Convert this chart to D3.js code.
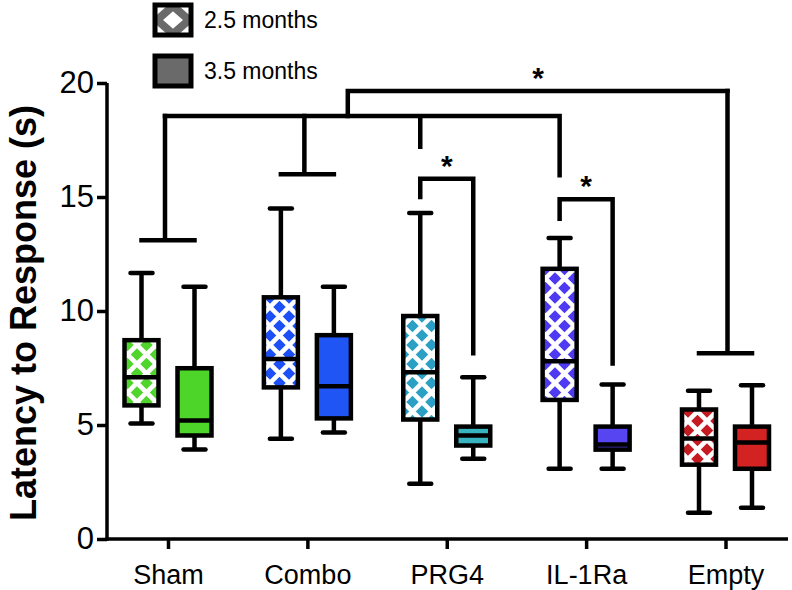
<!DOCTYPE html>
<html>
<head>
<meta charset="utf-8">
<script src="https://cdn.jsdelivr.net/npm/d3@7"></script>
<style>
  html, body { margin: 0; padding: 0; background: #fff; }
  svg { display: block; font-family: "Liberation Sans", Arial, Helvetica, sans-serif; }
</style>
</head>
<body>
<svg id="chart" width="792" height="590"></svg>
<script>
// ---------- data ----------
const groups = ["Sham", "Combo", "PRG4", "IL-1Ra", "Empty"];
const seriesNames = ["2.5 months", "3.5 months"];
const yTicks = [0, 5, 10, 15, 20];

// 2.5 months (patterned boxes)
const min25 = [5.07, 4.40, 2.42, 3.08, 1.15];
const q1_25 = [5.86, 6.65, 5.24, 6.10, 3.26];
const med25 = [7.09, 7.90, 7.31, 7.80, 4.41];
const q3_25 = [8.72, 10.60, 9.78, 11.85, 5.68];
const max25 = [11.67, 14.50, 14.30, 13.20, 6.50];

// 3.5 months (solid boxes)
const min35 = [3.92, 4.67, 3.52, 3.08, 1.37];
const q1_35 = [4.54, 5.29, 4.10, 3.92, 3.08];
const med35 = [5.20, 6.70, 4.54, 4.14, 4.23];
const q3_35 = [7.49, 8.94, 4.93, 4.93, 4.93];
const max35 = [11.06, 11.06, 7.09, 6.78, 6.74];

const patternColors = ["#4fd52b", "#1d4ff7", "#2b9fc4", "#4d3af2", "#c41a22"];
const solidColors   = ["#4ed52a", "#1f55f5", "#38b4c0", "#5645f0", "#d22222"];

// significance bracket heights (data units)
const pairBracketY = [13.1, 16.0, null, null, 8.15];
const groupLinkY = 18.55;   // links Sham..IL-1Ra
const topLinkY = 19.65;     // links that to Empty
const starBrackets = [
  { group: "PRG4",   y: 15.8, leftEnd: 15.0, rightEnd: 8.15 },
  { group: "IL-1Ra", y: 14.9, leftEnd: 14.05, rightEnd: 7.7 }
];
const prgStemEnd = 17.2;
const ilStemEnd = 15.95;

// ---------- layout ----------
const svg = d3.select("#chart");
const x = d3.scalePoint().domain(groups).range([168, 725.5]);
const y = d3.scaleLinear().domain([0, 20]).range([539, 83]);
const off = 26.5, boxW = 34, capW = 22, sw = 4.5;

// patterns
const defs = svg.append("defs");
function makePattern(id, color) {
  const T = 19;
  const p = defs.append("pattern").attr("id", id)
    .attr("patternUnits", "userSpaceOnUse").attr("width", T).attr("height", T)
    .attr("x", 4).attr("y", 3);
  p.append("rect").attr("width", T).attr("height", T).attr("fill", color);
  p.append("path").attr("d", `M0,0L${T},${T}M${T},0L0,${T}M${-T/2},${T/2}L${T/2},${1.5*T}M${T/2},${-T/2}L${1.5*T},${T/2}M${1.5*T},${T/2}L${T/2},${1.5*T}M${T/2},${-T/2}L${-T/2},${T/2}`)
    .attr("stroke", "#fff").attr("stroke-width", 4.6);
  return `url(#${id})`;
}
const patFills = patternColors.map((c, i) => makePattern("pat" + i, c));

// legend pattern: gray lattice with white diamonds
const lp = defs.append("pattern").attr("id", "patLegend")
  .attr("patternUnits", "userSpaceOnUse").attr("width", 32).attr("height", 28)
  .attr("x", 157).attr("y", 6);
lp.append("rect").attr("width", 32).attr("height", 28).attr("fill", "#fff");
lp.append("path").attr("d", "M16,0L32,14L16,28L0,14Z").attr("fill", "none")
  .attr("stroke", "#6a6a6a").attr("stroke-width", 8);

// axes
const yAxis = d3.axisLeft(y).tickValues(yTicks).tickSize(10).tickPadding(3);
const gy = svg.append("g").attr("transform", "translate(107,0)").call(yAxis);
gy.select(".domain").attr("stroke", "#000").attr("stroke-width", 3.5).attr("d", `M0,${y(20)}V${y(0)+1.75}`);
gy.selectAll(".tick line").attr("stroke", "#000").attr("stroke-width", 3.5);
gy.selectAll(".tick text").attr("font-size", 31).attr("fill", "#000");

const xAxis = d3.axisBottom(x).tickSize(10).tickPadding(16);
const gx = svg.append("g").attr("transform", `translate(0,${y(0)})`).call(xAxis);
gx.select(".domain").attr("stroke", "#000").attr("stroke-width", 3.5).attr("d", `M105.25,0H788`);
gx.selectAll(".tick line").attr("stroke", "#000").attr("stroke-width", 3.5);
gx.selectAll(".tick text").attr("font-size", 27).attr("fill", "#000");

// y label
svg.append("text")
  .attr("transform", `translate(36,${(y(0) + y(20)) / 2 + 2}) rotate(-90)`)
  .attr("text-anchor", "middle").attr("font-size", 36).attr("font-weight", "bold")
  .text("Latency to Response (s)");

// boxes
function drawBox(cx, lo, q1, med, q3, hi, fill) {
  const g = svg.append("g");
  g.append("line").attr("x1", cx).attr("x2", cx).attr("y1", y(hi)).attr("y2", y(q3))
    .attr("stroke", "#000").attr("stroke-width", sw);
  g.append("line").attr("x1", cx).attr("x2", cx).attr("y1", y(q1)).attr("y2", y(lo))
    .attr("stroke", "#000").attr("stroke-width", sw);
  g.append("line").attr("x1", cx - capW / 2).attr("x2", cx + capW / 2).attr("y1", y(hi)).attr("y2", y(hi))
    .attr("stroke", "#000").attr("stroke-width", sw).attr("stroke-linecap", "round");
  g.append("line").attr("x1", cx - capW / 2).attr("x2", cx + capW / 2).attr("y1", y(lo)).attr("y2", y(lo))
    .attr("stroke", "#000").attr("stroke-width", sw).attr("stroke-linecap", "round");
  g.append("rect").attr("x", cx - boxW / 2).attr("width", boxW)
    .attr("y", y(q3)).attr("height", y(q1) - y(q3))
    .attr("fill", fill).attr("stroke", "#000").attr("stroke-width", sw);
  g.append("line").attr("x1", cx - boxW / 2).attr("x2", cx + boxW / 2).attr("y1", y(med)).attr("y2", y(med))
    .attr("stroke", "#000").attr("stroke-width", sw);
}
groups.forEach((gname, i) => {
  drawBox(x(gname) - off, min25[i], q1_25[i], med25[i], q3_25[i], max25[i], patFills[i]);
  drawBox(x(gname) + off, min35[i], q1_35[i], med35[i], q3_35[i], max35[i], solidColors[i]);
});

// brackets
const br = svg.append("g").attr("fill", "none").attr("stroke", "#000").attr("stroke-width", sw)
  .attr("stroke-linecap", "square");
function path(d) { br.append("path").attr("d", d); }

const shamStemX = x("Sham") - 3;
const comboStemX = x("Combo") - 3;
const prgStemX = x("PRG4") - off;
const ilStemX = x("IL-1Ra") - off;
const emptyStemX = x("Empty") + 2;
const topLeftX = x("Sham") + (x("Combo") - x("Sham")) * 1.29;

// Sham pair
path(`M${x("Sham") - off},${y(pairBracketY[0])}H${x("Sham") + off}M${shamStemX},${y(pairBracketY[0])}V${y(groupLinkY)}`);
// Combo pair
path(`M${x("Combo") - off},${y(pairBracketY[1])}H${x("Combo") + off}M${comboStemX},${y(pairBracketY[1])}V${y(groupLinkY)}`);
// Empty pair
path(`M${x("Empty") - off},${y(pairBracketY[4])}H${x("Empty") + off}M${emptyStemX},${y(pairBracketY[4])}V${y(topLinkY)}`);
// group link
path(`M${shamStemX},${y(groupLinkY)}H${ilStemX}V${y(ilStemEnd)}M${prgStemX},${y(groupLinkY)}V${y(prgStemEnd)}`);
// top link
path(`M${topLeftX},${y(groupLinkY)}V${y(topLinkY)}H${emptyStemX}`);

// star brackets
starBrackets.forEach(s => {
  const l = x(s.group) - off, r = x(s.group) + off;
  path(`M${l},${y(s.leftEnd)}V${y(s.y)}H${r}V${y(s.rightEnd)}`);
  svg.append("text").attr("x", (l + r) / 2).attr("y", y(s.y) - 3)
    .attr("text-anchor", "middle").attr("font-size", 30).attr("font-weight", "bold").text("*");
});
svg.append("text").attr("x", 538).attr("y", y(topLinkY) - 3)
  .attr("text-anchor", "middle").attr("font-size", 30).attr("font-weight", "bold").text("*");

// legend
const legendFills = ["url(#patLegend)", "#6a6a6a"];
seriesNames.forEach((name, i) => {
  const ly = 5 + i * 51;
  svg.append("rect").attr("x", 155).attr("y", ly).attr("width", 36).attr("height", 30)
    .attr("fill", legendFills[i]).attr("stroke", "#000").attr("stroke-width", 5);
  svg.append("text").attr("x", 204).attr("y", ly + 23).attr("font-size", 23).text(name);
});
</script>
</body>
</html>
